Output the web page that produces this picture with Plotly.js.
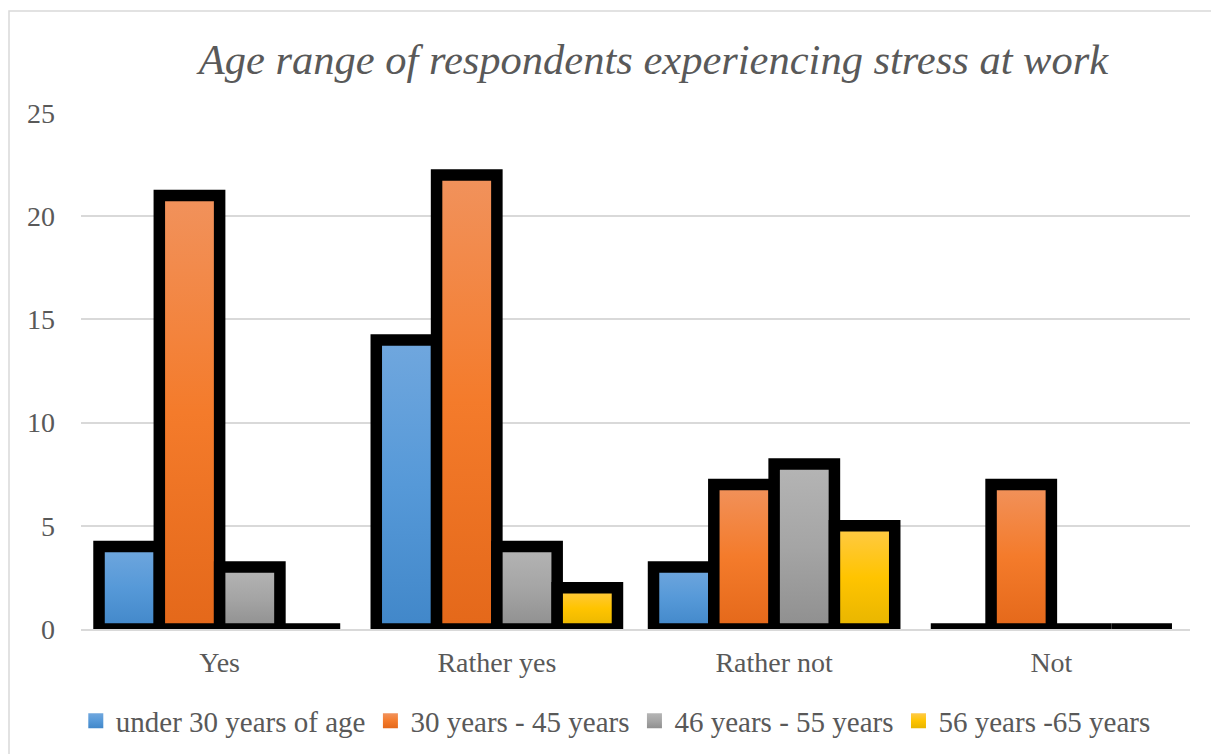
<!DOCTYPE html>
<html>
<head>
<meta charset="utf-8">
<script src="https://cdn.plot.ly/plotly-3.0.1.min.js"></script>
<style>
  html, body { margin: 0; padding: 0; background: #ffffff; }
  #chart { width: 1211px; height: 754px; }
</style>
</head>
<body>
<div id="chart"></div>
<script>
// Survey answers grouped by answer, one series per age bracket
const categories = ['Yes', 'Rather yes', 'Rather not', 'Not'];
const seriesNames = ['under 30 years of age', '30 years - 45 years', '46 years - 55 years', '56 years -65 years'];
const under30 = [4, 14, 3, 0];
const age30to45 = [21, 22, 7, 7];
const age46to55 = [3, 4, 8, 0];
const age56to65 = [0, 2, 5, 0];
const yTicks = [0, 5, 10, 15, 20, 25];

const seriesValues = [under30, age30to45, age46to55, age56to65];

// base colour plus top / middle / bottom gradient stops for each series
const palette = [
  { base: '#5597d6', stops: ['#70a7de', '#5699d8', '#4187c9'] },
  { base: '#f07c30', stops: ['#f1925c', '#f47b2b', '#e4681a'] },
  { base: '#a4a4a4', stops: ['#b5b5b5', '#a5a5a5', '#8f8f8f'] },
  { base: '#fcc10a', stops: ['#ffca48', '#ffc400', '#e7b500'] }
];

const textColor = '#595959';
const gridColor = '#d9d9d9';
const serif = 'Liberation Serif, Times New Roman, serif';

const barTraces = seriesValues.map((vals, i) => ({
  type: 'bar',
  x: categories,
  y: vals,
  name: seriesNames[i],
  showlegend: false,
  marker: { color: palette[i].base, line: { color: '#000000', width: 11.5 } },
  hoverinfo: 'x+y+name'
}));

// legend entries: plain squares without the heavy bar outline
const legendTraces = seriesNames.map((name, i) => ({
  type: 'scatter',
  mode: 'markers',
  x: [null],
  y: [null],
  name: name,
  marker: { symbol: 'square', size: 15, color: palette[i].base, line: { width: 0 } },
  hoverinfo: 'skip'
}));

const layout = {
  width: 1211,
  height: 754,
  paper_bgcolor: '#ffffff',
  plot_bgcolor: '#ffffff',
  margin: { l: 81, r: 21, t: 113, b: 124.5, pad: 0 },
  barmode: 'group',
  bargap: 0.13,
  bargroupgap: 0,
  font: { family: serif, color: textColor, size: 28 },
  title: {
    text: 'Age range of respondents experiencing stress at work',
    font: { family: serif, size: 42.5, color: textColor, style: 'italic' },
    xref: 'container', x: 0.5396, xanchor: 'center',
    yref: 'container', y: 1 - 59 / 754, yanchor: 'middle'
  },
  xaxis: {
    type: 'category',
    categoryarray: categories,
    showgrid: false,
    showline: true,
    linecolor: gridColor,
    linewidth: 1.5,
    ticks: '',
    ticklabelstandoff: 8,
    tickfont: { family: serif, size: 28, color: textColor },
    zeroline: false,
    fixedrange: true
  },
  yaxis: {
    range: [0, 25],
    tickvals: yTicks,
    ticktext: yTicks.map(String),
    showgrid: true,
    gridcolor: gridColor,
    gridwidth: 1.5,
    zeroline: false,
    showline: false,
    ticks: '',
    ticklabelstandoff: 25,
    tickfont: { family: serif, size: 28, color: textColor },
    fixedrange: true
  },
  legend: {
    orientation: 'h',
    xref: 'container', x: 0.5085, xanchor: 'center',
    yref: 'container', y: 33 / 754, yanchor: 'middle',
    font: { family: serif, size: 29, color: textColor },
    bgcolor: 'rgba(0,0,0,0)',
    itemclick: false,
    itemdoubleclick: false
  },
  shapes: [{
    // chart frame (runs past the right and bottom edges of the page)
    type: 'rect', xref: 'paper', yref: 'paper',
    x0: (9 - 81) / 1109, x1: (1216 - 81) / 1109,
    y0: (629.5 - 760) / 516.5, y1: (629.5 - 11) / 516.5,
    line: { color: gridColor, width: 1.5 },
    fillcolor: 'rgba(0,0,0,0)',
    layer: 'below'
  }],
  hovermode: 'closest'
};

const gd = document.getElementById('chart');

function ensureGradients() {
  const svg = gd.querySelector('svg.main-svg');
  if (!svg) return;
  let defs = svg.querySelector('defs');
  if (!defs) {
    defs = document.createElementNS('http://www.w3.org/2000/svg', 'defs');
    svg.insertBefore(defs, svg.firstChild);
  }
  palette.forEach((p, i) => {
    const id = 'barShade' + i;
    if (defs.querySelector('#' + id)) return;
    const g = document.createElementNS('http://www.w3.org/2000/svg', 'linearGradient');
    g.setAttribute('id', id);
    g.setAttribute('x1', '0'); g.setAttribute('y1', '0');
    g.setAttribute('x2', '0'); g.setAttribute('y2', '1');
    [0, 0.5, 1].forEach((off, k) => {
      const s = document.createElementNS('http://www.w3.org/2000/svg', 'stop');
      s.setAttribute('offset', String(off));
      s.setAttribute('stop-color', p.stops[k]);
      g.appendChild(s);
    });
    defs.appendChild(g);
  });
}

function shadeBars() {
  ensureGradients();
  gd.querySelectorAll('.barlayer .trace.bars').forEach((tr, i) => {
    tr.querySelectorAll('path').forEach(path => {
      path.style.fill = 'url(#barShade' + i + ')';
    });
  });
  gd.querySelectorAll('.legend .traces').forEach((tr, i) => {
    tr.querySelectorAll('path.scatterpts').forEach(path => {
      path.style.fill = 'url(#barShade' + i + ')';
    });
  });
}

Plotly.newPlot(gd, barTraces.concat(legendTraces), layout, { displayModeBar: false, responsive: false })
  .then(() => {
    shadeBars();
    gd.on('plotly_afterplot', shadeBars);
  });
</script>
</body>
</html>
